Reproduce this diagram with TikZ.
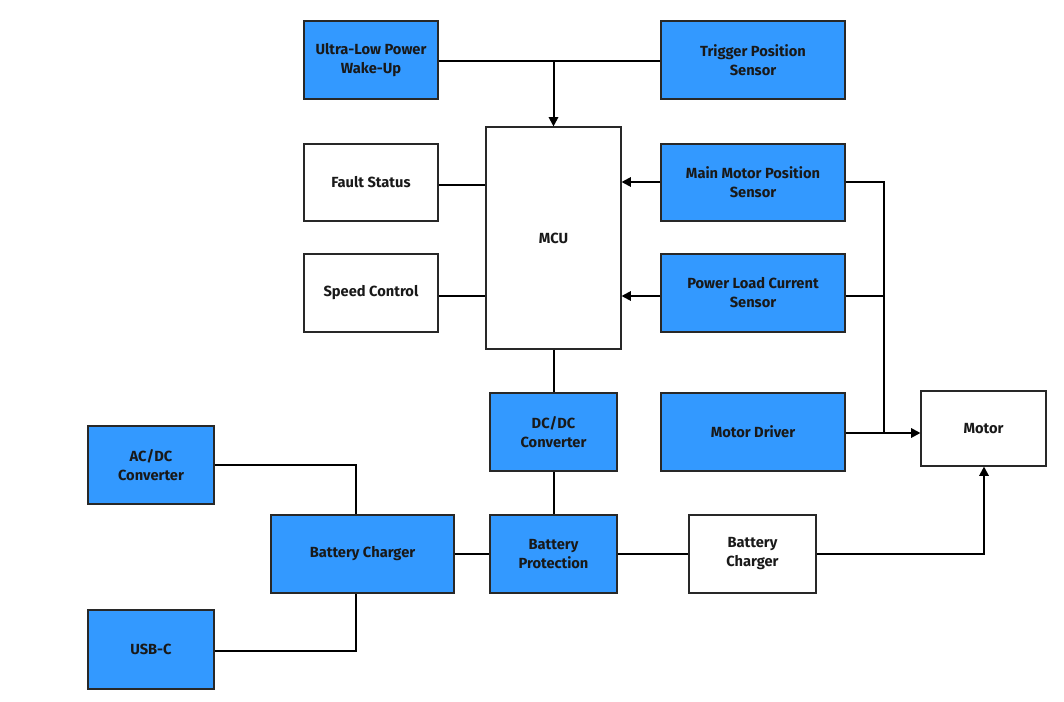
\documentclass[tikz,border=0pt]{standalone}
\usepackage{fontspec}
\setmainfont{Fira Sans}
\usetikzlibrary{arrows.meta}
\definecolor{boxblue}{RGB}{51,153,255}
\definecolor{boxline}{RGB}{40,40,40}
\tikzset{
  blk/.style={draw=boxline, line width=0.8pt, rectangle, inner sep=2pt, align=center,
    font=\fontsize{11}{14.3}\selectfont\bfseries, text=black!90},
  bluebox/.style={blk, fill=boxblue},
  whitebox/.style={blk, fill=white},
  conn/.style={line width=1.5pt, black},
  arr/.style={conn, -{Triangle[length=7pt,width=7pt]}},
}
\begin{document}
\begin{tikzpicture}[x=0.75pt,y=-0.75pt]
\useasboundingbox (0,0) rectangle (1064,702);
% nodes
\node[bluebox, minimum width=134*0.75pt, minimum height=78*0.75pt] (ulp) at (371,60) {Ultra-Low Power\\Wake-Up};
\node[bluebox, minimum width=184*0.75pt, minimum height=78*0.75pt] (tps) at (753,60) {Trigger Position\\Sensor};
\node[whitebox, minimum width=135*0.75pt, minimum height=222*0.75pt] (mcu) at (553.5,238) {MCU};
\node[whitebox, minimum width=134*0.75pt, minimum height=77*0.75pt] (fs) at (371,182.5) {Fault Status};
\node[whitebox, minimum width=134*0.75pt, minimum height=78*0.75pt] (sc) at (371,293) {Speed Control};
\node[bluebox, minimum width=184*0.75pt, minimum height=77*0.75pt] (mmps) at (753,182.5) {Main Motor Position\\Sensor};
\node[bluebox, minimum width=184*0.75pt, minimum height=78*0.75pt] (plcs) at (753,293) {Power Load Current\\Sensor};
\node[bluebox, minimum width=127*0.75pt, minimum height=78*0.75pt] (dcdc) at (553.5,432) {DC/DC\\Converter};
\node[bluebox, minimum width=184*0.75pt, minimum height=78*0.75pt] (md) at (753,432) {Motor Driver};
\node[whitebox, minimum width=125*0.75pt, minimum height=75*0.75pt] (motor) at (983.5,428.5) {Motor};
\node[bluebox, minimum width=126*0.75pt, minimum height=78*0.75pt] (acdc) at (151,465) {AC/DC\\Converter};
\node[bluebox, minimum width=126*0.75pt, minimum height=79*0.75pt] (usbc) at (151,649.5) {USB-C};
\node[bluebox, minimum width=183*0.75pt, minimum height=78*0.75pt] (bc) at (362.5,554) {Battery Charger};
\node[bluebox, minimum width=127*0.75pt, minimum height=78*0.75pt] (bp) at (553.5,554) {Battery\\Protection};
\node[whitebox, minimum width=127*0.75pt, minimum height=78*0.75pt] (bc2) at (752.5,554) {Battery\\Charger};
% junction coordinates
\coordinate (jtop) at (553.5,61);
\coordinate (jr1) at (884,182);
\coordinate (jr2) at (884,296);
\coordinate (jr3) at (884,433);
\coordinate (jm) at (984,554);
\coordinate (ja) at (356,465);
\coordinate (ju) at (356,651);
% connectors
\draw[conn] (ulp.east |- jtop) -- (tps.west |- jtop);
\draw[arr] (jtop) -- (mcu.north);
\draw[conn] (fs.east |- 0,185) -- (mcu.west |- 0,185);
\draw[conn] (sc.east |- 0,296) -- (mcu.west |- 0,296);
\draw[arr] (mmps.west |- jr1) -- (mcu.east |- jr1);
\draw[arr] (plcs.west |- jr2) -- (mcu.east |- jr2);
\draw[conn] (mcu.south) -- (dcdc.north);
\draw[conn] (dcdc.south) -- (bp.north);
\draw[conn] (bc.east) -- (bp.west);
\draw[conn] (bp.east) -- (bc2.west);
\draw[arr] (bc2.east) -- (jm) -- (motor.south -| jm);
\draw[arr] (md.east |- jr3) -- (motor.west |- jr3);
\draw[conn] (mmps.east |- jr1) -- (jr1) -- (jr3);
\draw[conn] (plcs.east |- jr2) -- (jr2);
\draw[conn] (acdc.east |- ja) -- (ja) -- (bc.north -| ja);
\draw[conn] (usbc.east |- ju) -- (ju) -- (bc.south -| ju);
\end{tikzpicture}
\end{document}
